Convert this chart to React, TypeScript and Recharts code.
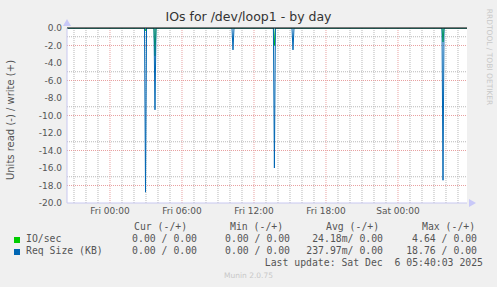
import React from 'react';
import { LineChart, Line, XAxis, YAxis, ReferenceLine, CartesianGrid } from 'recharts';

// hours relative to Fri 00:00
const startHour = -3.583;
const endHour = 29.75;
const spikeHours = [2.96, 3.75, 10.25, 13.7, 15.25, 27.75];
const reqSizeDepth = [-18.76, -9.35, -2.5, -16.0, -2.5, -17.4];
const ioRateDepth = [-0.3, -3.2, 0, -2.0, 0, -1.6];

const xTicks = [0, 6, 12, 18, 24];
const xTickLabels = ['Fri 00:00', 'Fri 06:00', 'Fri 12:00', 'Fri 18:00', 'Sat 00:00'];
const yTicks = [-20, -18, -16, -14, -12, -10, -8, -6, -4, -2, 0];
const minorY = [-19, -17, -15, -13, -11, -9, -7, -5, -3, -1];
const minorHours = [-3, -2, -1, 1, 2, 3, 4, 5, 7, 8, 9, 10, 11, 13, 14, 15, 16, 17, 19, 20, 21, 22, 23, 25, 26, 27, 28, 29];

const legendRows = [
  { name: 'IO/sec', color: '#00cc00', cur: '0.00 / 0.00', min: '0.00 / 0.00', avg: '24.18m/ 0.00', max: '4.64 / 0.00' },
  { name: 'Req Size (KB)', color: '#0066b3', cur: '0.00 / 0.00', min: '0.00 / 0.00', avg: '237.97m/ 0.00', max: '18.76 / 0.00' },
];

const step = 1 / 12;
const buildSeries = (depths: number[]) => {
  const pts: { t: number; v: number }[] = [{ t: startHour, v: 0 }];
  spikeHours.forEach((h, i) => {
    pts.push({ t: h - step, v: 0 });
    pts.push({ t: h, v: depths[i] });
    pts.push({ t: h + step, v: 0 });
  });
  pts.push({ t: endHour, v: 0 });
  return pts;
};

const ioData = buildSeries(ioRateDepth);
const reqData = buildSeries(reqSizeDepth);

const mono = '"DejaVu Sans Mono", monospace';
const sans = '"DejaVu Sans", sans-serif';
const textColor = '#555';

const abs = (s: React.CSSProperties): React.CSSProperties => ({ position: 'absolute', whiteSpace: 'pre', lineHeight: 1, ...s });

const App: React.FC = () => {
  return (
    <div style={{ position: 'absolute', left: 0, top: 0, width: 497, height: 287, background: '#f0f0f0', overflow: 'hidden' }}>
      <div style={abs({ left: 0, width: 497, top: 11, textAlign: 'center', fontFamily: sans, fontSize: 12.5, color: '#333' })}>
        IOs for /dev/loop1 - by day
      </div>
      <div style={abs({ left: 11, top: 120, fontFamily: sans, fontSize: 10, color: textColor, transform: 'translate(-50%, -50%) rotate(-90deg)' })}>
        Units read (-) / write (+)
      </div>
      <div style={abs({ left: 489, top: 57, fontFamily: sans, fontSize: 7.5, color: '#c8c8c8', transform: 'translate(-50%, -50%) rotate(90deg)' })}>
        RRDTOOL / TOBI OETIKER
      </div>

      <div style={{ position: 'absolute', left: 0, top: 0 }}>
        <LineChart width={497} height={287} data={reqData} margin={{ top: 28, right: 30, bottom: 64, left: 7 }}>
          <CartesianGrid
            fill="#ffffff"
            stroke="#b8b8b8"
            strokeDasharray="1 1"
            horizontalValues={minorY}
            verticalValues={minorHours}
          />
          <CartesianGrid
            stroke="#e8a0a0"
            strokeDasharray="1 1"
            horizontalValues={yTicks.slice(1, -1)}
            verticalValues={xTicks}
          />
          <XAxis
            type="number"
            dataKey="t"
            domain={[startHour, endHour]}
            ticks={xTicks}
            tickFormatter={(v: number) => xTickLabels[xTicks.indexOf(v)]}
            allowDataOverflow
            height={20}
            tickSize={0}
            tickMargin={5}
            axisLine={{ stroke: '#c8c8f0' }}
            tick={{ fontFamily: sans, fontSize: 9, fill: textColor }}
          />
          <YAxis
            type="number"
            domain={[-20, 0]}
            ticks={yTicks}
            tickFormatter={(v: number) => v.toFixed(1)}
            allowDataOverflow
            width={60}
            tickSize={0}
            tickMargin={5}
            axisLine={{ stroke: '#c8c8f0' }}
            tick={{ fontFamily: sans, fontSize: 9, fill: textColor }}
          />
          <Line data={ioData} dataKey="v" type="linear" stroke="#00cc00" strokeWidth={1} dot={false} isAnimationActive={false} />
          <Line data={reqData} dataKey="v" type="linear" stroke="#0066b3" strokeWidth={1} dot={false} isAnimationActive={false} />
          <ReferenceLine y={0} stroke="#000" strokeWidth={1} ifOverflow="extendDomain" />
        </LineChart>
      </div>

      <svg width={497} height={287} style={{ position: 'absolute', left: 0, top: 0, pointerEvents: 'none' }}>
        <polygon points="63,26 71,26 67,19" fill="#c8c8f8" />
        <polygon points="469,199 469,207 476,203" fill="#c8c8f8" />
      </svg>

      <div style={abs({ left: 134, top: 222, fontFamily: mono, fontSize: 9.8, color: textColor })}>Cur (-/+)</div>
      <div style={abs({ left: 230, top: 222, fontFamily: mono, fontSize: 9.8, color: textColor })}>Min (-/+)</div>
      <div style={abs({ left: 326, top: 222, fontFamily: mono, fontSize: 9.8, color: textColor })}>Avg (-/+)</div>
      <div style={abs({ left: 422, top: 222, fontFamily: mono, fontSize: 9.8, color: textColor })}>Max (-/+)</div>

      {legendRows.map((r, i) => {
        const top = 234 + i * 12;
        return (
          <React.Fragment key={r.name}>
            <div style={{ position: 'absolute', left: 14, top: top + 3, width: 6, height: 6, background: r.color }} />
            <div style={abs({ left: 26, top, fontFamily: mono, fontSize: 9.8, color: textColor })}>{r.name}</div>
            <div style={abs({ right: 497 - 197, top, fontFamily: mono, fontSize: 9.8, color: textColor })}>{r.cur}</div>
            <div style={abs({ right: 497 - 290, top, fontFamily: mono, fontSize: 9.8, color: textColor })}>{r.min}</div>
            <div style={abs({ right: 497 - 383, top, fontFamily: mono, fontSize: 9.8, color: textColor })}>{r.avg}</div>
            <div style={abs({ right: 497 - 477, top, fontFamily: mono, fontSize: 9.8, color: textColor })}>{r.max}</div>
          </React.Fragment>
        );
      })}
      <div style={abs({ right: 497 - 483, top: 258, fontFamily: mono, fontSize: 9.8, color: textColor })}>
        Last update: Sat Dec  6 05:40:03 2025
      </div>
      <div style={abs({ left: 0, width: 497, top: 272, textAlign: 'center', fontFamily: sans, fontSize: 7.5, color: '#c8c8c8' })}>
        Munin 2.0.75
      </div>
    </div>
  );
};

export default App;
